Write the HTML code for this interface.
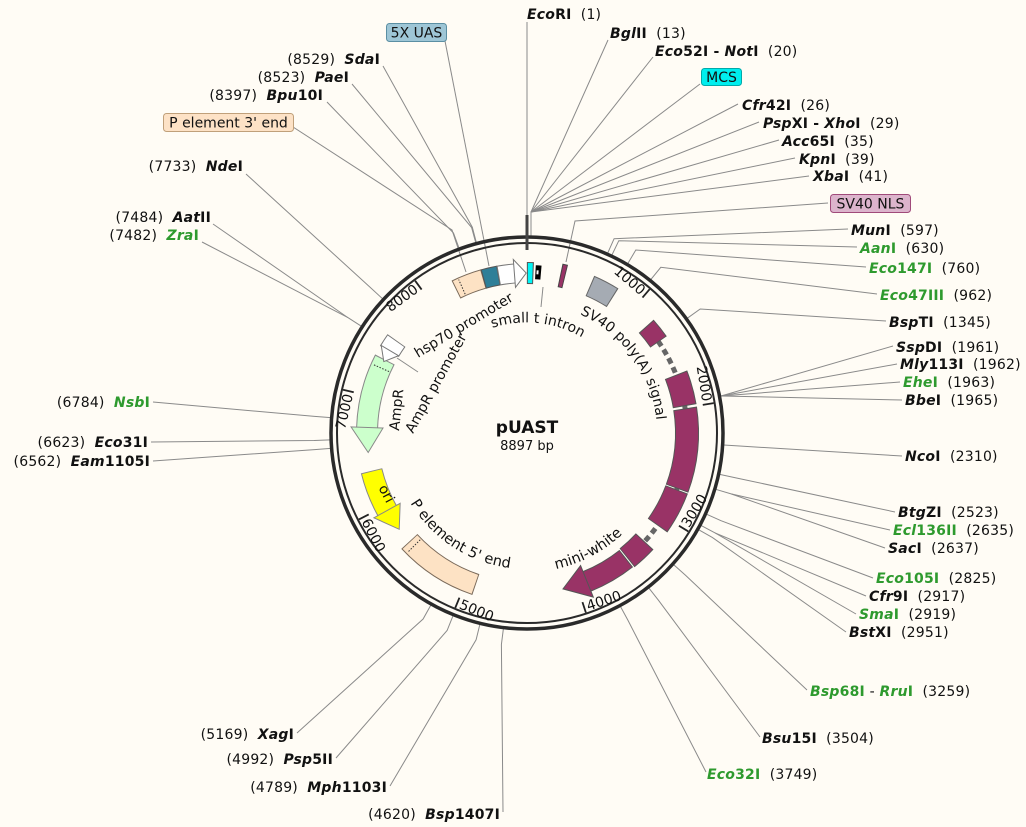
<!DOCTYPE html>
<html><head><meta charset="utf-8"><style>
body{margin:0;background:#fffcf5;}
svg{display:block;font-family:"DejaVu Sans","Liberation Sans",sans-serif;}
.i{font-weight:bold;font-style:italic}
.b{font-weight:bold}
.gi{font-weight:bold;font-style:italic;fill:#2e9a2e}
.gb{font-weight:bold;fill:#2e9a2e}
.ln{fill:none;stroke:#8a8a8a;stroke-width:1}
.lab{font-size:14px;letter-spacing:0.2px}
</style></head><body>
<svg width="1026" height="827" viewBox="0 0 1026 827" xmlns="http://www.w3.org/2000/svg" font-size="13">
<rect width="1026" height="827" fill="#fffcf5"/>
<g class="ln">
<line x1="527" y1="22" x2="527" y2="236"/>
<polyline points="608,40 531,212 531,236"/>
<polyline points="653,57 531,212"/>
<polyline points="700,84 531,212"/>
<polyline points="738,104 531,212"/>
<polyline points="759,122 531,212"/>
<polyline points="779,140 531,212"/>
<polyline points="795,158 531,212"/>
<polyline points="809,176 531,212"/>
<polyline points="828,203 575,221 566,262"/>
<polyline points="848,229 614.1,238.7 607.6,253.3"/>
<polyline points="857,247 618.8,240.7 611.9,255.1"/>
<polyline points="866,267 635.8,250 627.7,263.8"/>
<polyline points="877,294 660.8,267.3 650.7,279.7"/>
<polyline points="886,321 700.2,309 687.2,318.3"/>
<polyline points="893,346 721,396"/>
<polyline points="897,364 721,396"/>
<polyline points="900,382 721,396"/>
<polyline points="902,400 721,396"/>
<polyline points="902,456 739.6,446 723.6,445"/>
<polyline points="895,512 735.3,477.7 719.7,474.4"/>
<polyline points="890,530 731.1,493.9 715.7,489.3"/>
<polyline points="885,548 731.1,493.9"/>
<polyline points="873,578 721,520.7 706.5,514.2"/>
<polyline points="866,596 715.1,532.9 701,525.4"/>
<polyline points="856,614 715.1,532.9"/>
<polyline points="846,632 712.5,537.6 698.6,529.7"/>
<polyline points="807,690 685.5,575.3 673.6,564.6"/>
<polyline points="760,737 658.6,600.4 648.7,587.8"/>
<polyline points="706,772 628,620.4 620.4,606.4"/>
<polyline points="383,66 472.3,227.2 476.4,242.7"/>
<polyline points="352,84 471.6,227.5 475.8,242.9"/>
<polyline points="327,102 453.5,233 459,248"/>
<polyline points="293,127 452,230 466,272"/>
<polyline points="445,41 489,266"/>
<polyline points="246,174 370.9,288 382.6,298.8"/>
<polyline points="213,224 347.9,317.6 361.3,326.2"/>
<polyline points="202,242 347.9,317.6"/>
<polyline points="153,402 314.6,416.4 330.6,417.6"/>
<polyline points="151,442 314.2,440.5 330.2,439.9"/>
<polyline points="153,461 314.6,449.6 330.6,448.4"/>
<polyline points="297,733 423.1,619 430.9,605"/>
<polyline points="336,758 447.1,630.5 453.1,615.6"/>
<polyline points="390,786 476.1,639.8 479.9,624.3"/>
<polyline points="503,812 501.4,644.5 503.4,628.6"/>
<line x1="543" y1="287" x2="541" y2="307"/>
<line x1="397" y1="358" x2="418" y2="372"/>
</g>

<g transform="translate(527,433)">
<circle r="196" fill="none" stroke="#2a2a2a" stroke-width="3.5"/>
<circle r="190" fill="none" stroke="#2a2a2a" stroke-width="2"/>
<line x1="0" y1="-218" x2="0" y2="-183" stroke="#444" stroke-width="3"/>
<g stroke="#222" stroke-width="1.8" fill="#111" font-size="14">
<g transform="rotate(40.46)"><line y1="-189" y2="-178"/><text stroke="none" x="-3" y="-178" text-anchor="end">1000</text></g>
<g transform="rotate(80.92)"><line y1="-189" y2="-178"/><text stroke="none" x="-3" y="-178" text-anchor="end">2000</text></g>
<g transform="rotate(121.39)"><line y1="-189" y2="-178"/><text stroke="none" transform="rotate(180)" x="3" y="188">3000</text></g>
<g transform="rotate(161.85)"><line y1="-189" y2="-178"/><text stroke="none" transform="rotate(180)" x="3" y="188">4000</text></g>
<g transform="rotate(202.31)"><line y1="-189" y2="-178"/><text stroke="none" transform="rotate(180)" x="3" y="188">5000</text></g>
<g transform="rotate(242.78)"><line y1="-189" y2="-178"/><text stroke="none" transform="rotate(180)" x="3" y="188">6000</text></g>
<g transform="rotate(283.24)"><line y1="-189" y2="-178"/><text stroke="none" x="-3" y="-178" text-anchor="end">7000</text></g>
<g transform="rotate(323.70)"><line y1="-189" y2="-178"/><text stroke="none" x="-3" y="-178" text-anchor="end">8000</text></g>
</g>

<path d="M131.1,-91.8 A160,160 0 0 1 117,109.1" fill="none" stroke="#666" stroke-width="5" stroke-dasharray="6 4"/>

<g fill="none">
<circle r="160" stroke="#7a6a5a" stroke-width="20" stroke-dasharray="29.9 2000" transform="rotate(-116.35)"/>
<circle r="160" stroke="#555" stroke-width="20" stroke-dasharray="15.9 2000" transform="rotate(-105.85)"/>
<circle r="160" stroke="#777" stroke-width="20" stroke-dasharray="17.3 2000" transform="rotate(-100.35)"/>
<circle r="160" stroke="#555" stroke-width="22" stroke-dasharray="6.7 2000" transform="rotate(-90.05)"/>
<circle r="161" stroke="#000" stroke-width="14" stroke-dasharray="5.6 2000" transform="rotate(-87)"/>
<circle r="161" stroke="#444" stroke-width="24" stroke-dasharray="5.3 2000" transform="rotate(-78.15)"/>
<circle r="160" stroke="#666" stroke-width="22" stroke-dasharray="25.7 2000" transform="rotate(-66.85)"/>
<circle r="160" stroke="#555" stroke-width="20" stroke-dasharray="20.1 2000" transform="rotate(-41.85)"/>
<circle r="160" stroke="#555" stroke-width="24" stroke-dasharray="32.7 2000" transform="rotate(-21.35)"/>
<circle r="160" stroke="#555" stroke-width="24" stroke-dasharray="81.5 2000" transform="rotate(-8.85)"/>
<circle r="160" stroke="#555" stroke-width="24" stroke-dasharray="41 2000" transform="rotate(20.65)"/>
<circle r="160" stroke="#555" stroke-width="24" stroke-dasharray="24.2 2000" transform="rotate(42.65)"/>
<circle r="160" stroke="#555" stroke-width="22" stroke-dasharray="45.7 2000" transform="rotate(51.65)"/>
<circle r="160" stroke="#777" stroke-width="22" stroke-dasharray="13.1 2000" transform="rotate(-149.35)"/>
<circle r="160" stroke="#888" stroke-width="22" stroke-dasharray="71.8 2000" transform="rotate(-178.35)"/>
<circle r="160" stroke="#888" stroke-width="22" stroke-dasharray="43.8 2000" transform="rotate(-209.35)"/>
<circle r="160" stroke="#7a6a5a" stroke-width="22" stroke-dasharray="80.1 2000" transform="rotate(-251.35)"/>
<circle r="160" stroke="#fde2c4" stroke-width="18" stroke-dasharray="27.9 2000" transform="rotate(-116)"/>
<circle r="160" stroke="#2f7f98" stroke-width="18" stroke-dasharray="14 2000" transform="rotate(-105.5)"/>
<circle r="160" stroke="#ffffff" stroke-width="18" stroke-dasharray="15.4 2000" transform="rotate(-100)"/>
<circle r="160" stroke="#00f5f5" stroke-width="20" stroke-dasharray="4.7 2000" transform="rotate(-89.7)"/>
<circle r="161" stroke="#fff" stroke-width="4" stroke-dasharray="2 2000" transform="rotate(-86.6)"/>
<circle r="161" stroke="#993366" stroke-width="22" stroke-dasharray="3.4 2000" transform="rotate(-77.8)"/>
<circle r="160" stroke="#a5abb3" stroke-width="20" stroke-dasharray="23.7 2000" transform="rotate(-66.5)"/>
<circle r="160" stroke="#993366" stroke-width="18" stroke-dasharray="18.2 2000" transform="rotate(-41.5)"/>
<circle r="160" stroke="#993366" stroke-width="22" stroke-dasharray="30.7 2000" transform="rotate(-21)"/>
<circle r="160" stroke="#993366" stroke-width="22" stroke-dasharray="79.6 2000" transform="rotate(-8.5)"/>
<circle r="160" stroke="#993366" stroke-width="22" stroke-dasharray="39.1 2000" transform="rotate(21)"/>
<circle r="160" stroke="#993366" stroke-width="22" stroke-dasharray="22.3 2000" transform="rotate(43)"/>
<circle r="160" stroke="#993366" stroke-width="20" stroke-dasharray="44.7 2000" transform="rotate(52)"/>
<circle r="160" stroke="#ffffff" stroke-width="20" stroke-dasharray="11.2 2000" transform="rotate(-149)"/>
<circle r="160" stroke="#ccffcc" stroke-width="20" stroke-dasharray="69.8 2000" transform="rotate(-178)"/>
<circle r="160" stroke="#ffff00" stroke-width="20" stroke-dasharray="41.9 2000" transform="rotate(-209)"/>
<circle r="160" stroke="#fde2c4" stroke-width="20" stroke-dasharray="78.2 2000" transform="rotate(-251)"/>
</g>
<polygon points="-11.5,-145.6 -13.7,-173.5 -0.8,-160" fill="#fff" stroke="#777" stroke-width="1"/>
<g transform="rotate(167)"><polygon points="-22.4,-141.2 -27.7,-174.8 0,-160" fill="#993366" stroke="#555" stroke-width="1"/></g>
<g transform="rotate(-63.5)"><polygon points="11.8,-149.5 13.3,-169.5 0,-160" fill="#fff" stroke="#777" stroke-width="1"/></g>
<g transform="rotate(-97)"><polygon points="22.5,-142.3 27.5,-173.9 0,-160" fill="#ccffcc" stroke="#888" stroke-width="1"/></g>
<g transform="rotate(-127)"><polygon points="20.2,-143.6 24.4,-173.3 0,-160" fill="#ffff00" stroke="#888" stroke-width="1"/></g>
<g stroke="#333" stroke-width="1" stroke-dasharray="1.5 1.5">
<line transform="rotate(-24)" x1="0" y1="-152" x2="0" y2="-168"/>
<line transform="rotate(-66)" x1="0" y1="-151" x2="0" y2="-169"/>
<line transform="rotate(-135)" x1="0" y1="-151" x2="0" y2="-169"/>
</g>
<text x="0" y="0" text-anchor="middle" font-size="17" font-weight="bold" fill="#111">pUAST</text>
<text x="0" y="17" text-anchor="middle" font-size="13" fill="#111">8897 bp</text>
</g>

<defs>
<path id="pIntron" d="M492.3,327.9 A110,110 0 0 1 611.3,362.3"/>
<path id="pSV40" d="M579.9,314.2 A130,130 0 0 1 649.2,477.5"/>
<path id="pP5" d="M410.4,503 A136,136 0 0 0 550.6,567"/>
<path id="pMini" d="M555.9,569 A139,139 0 0 0 647.4,502.5"/>
</defs>
<g fill="#111" font-size="14">
<text transform="translate(418,358) rotate(-31)" font-size="14">hsp70 promoter</text>
<text transform="translate(413,434) rotate(-61)" font-size="14">AmpR promoter</text>
<text transform="translate(399,431) rotate(-84)">AmpR</text>
<text transform="translate(386,494) rotate(62)" text-anchor="middle" y="4">ori</text>
<text><textPath href="#pIntron">small t intron</textPath></text>
<text><textPath href="#pSV40">SV40 poly(A) signal</textPath></text>
<text font-size="14.5"><textPath href="#pP5">P element 5' end</textPath></text>
<text font-size="14.5"><textPath href="#pMini">mini-white</textPath></text>
</g>

<g font-size="14">
<rect x="386.5" y="23.5" width="60" height="18" rx="3" fill="#9ec6d6" stroke="#5b8fa3"/>
<text x="416.5" y="37.5" text-anchor="middle" fill="#111">5X UAS</text>
<rect x="163.5" y="113.5" width="130" height="18" rx="3" fill="#fde2c6" stroke="#c0a07a"/>
<text x="228.5" y="127.5" text-anchor="middle" fill="#111">P element 3' end</text>
<rect x="701.5" y="68.5" width="40" height="17" rx="3" fill="#00eeee" stroke="#0aa"/>
<text x="721.5" y="82" text-anchor="middle" fill="#111">MCS</text>
<rect x="830.5" y="194.5" width="80" height="18" rx="3" fill="#dcb4cc" stroke="#a04a7a"/>
<text x="870.5" y="208.5" text-anchor="middle" fill="#111">SV40 NLS</text>
</g>

<g fill="#111" class="lab">
<text x="527" y="19"><tspan class="i">Eco</tspan><tspan class="b">RI</tspan>&#160;&#160;(1)</text>
<text x="610" y="38"><tspan class="i">Bgl</tspan><tspan class="b">II</tspan>&#160;&#160;(13)</text>
<text x="655" y="56"><tspan class="i">Eco</tspan><tspan class="b">52I - </tspan><tspan class="i">Not</tspan><tspan class="b">I</tspan>&#160;&#160;(20)</text>
<text x="742" y="110"><tspan class="i">Cfr</tspan><tspan class="b">42I</tspan>&#160;&#160;(26)</text>
<text x="763" y="128"><tspan class="i">Psp</tspan><tspan class="b">XI - </tspan><tspan class="i">Xho</tspan><tspan class="b">I</tspan>&#160;&#160;(29)</text>
<text x="782" y="146"><tspan class="i">Acc</tspan><tspan class="b">65I</tspan>&#160;&#160;(35)</text>
<text x="799" y="164"><tspan class="i">Kpn</tspan><tspan class="b">I</tspan>&#160;&#160;(39)</text>
<text x="813" y="181"><tspan class="i">Xba</tspan><tspan class="b">I</tspan>&#160;&#160;(41)</text>
<text x="851" y="235"><tspan class="i">Mun</tspan><tspan class="b">I</tspan>&#160;&#160;(597)</text>
<text x="860" y="253"><tspan class="gi">Aan</tspan><tspan class="gb">I</tspan>&#160;&#160;(630)</text>
<text x="869" y="273"><tspan class="gi">Eco</tspan><tspan class="gb">147I</tspan>&#160;&#160;(760)</text>
<text x="880" y="300"><tspan class="gi">Eco</tspan><tspan class="gb">47III</tspan>&#160;&#160;(962)</text>
<text x="889" y="327"><tspan class="i">Bsp</tspan><tspan class="b">TI</tspan>&#160;&#160;(1345)</text>
<text x="896" y="352"><tspan class="i">Ssp</tspan><tspan class="b">DI</tspan>&#160;&#160;(1961)</text>
<text x="900" y="369"><tspan class="i">Mly</tspan><tspan class="b">113I</tspan>&#160;&#160;(1962)</text>
<text x="903" y="387"><tspan class="gi">Ehe</tspan><tspan class="gb">I</tspan>&#160;&#160;(1963)</text>
<text x="905" y="405"><tspan class="i">Bbe</tspan><tspan class="b">I</tspan>&#160;&#160;(1965)</text>
<text x="905" y="461"><tspan class="i">Nco</tspan><tspan class="b">I</tspan>&#160;&#160;(2310)</text>
<text x="898" y="517"><tspan class="i">Btg</tspan><tspan class="b">ZI</tspan>&#160;&#160;(2523)</text>
<text x="893" y="535"><tspan class="gi">Ecl</tspan><tspan class="gb">136II</tspan>&#160;&#160;(2635)</text>
<text x="888" y="553"><tspan class="i">Sac</tspan><tspan class="b">I</tspan>&#160;&#160;(2637)</text>
<text x="876" y="583"><tspan class="gi">Eco</tspan><tspan class="gb">105I</tspan>&#160;&#160;(2825)</text>
<text x="869" y="601"><tspan class="i">Cfr</tspan><tspan class="b">9I</tspan>&#160;&#160;(2917)</text>
<text x="859" y="619"><tspan class="gi">Sma</tspan><tspan class="gb">I</tspan>&#160;&#160;(2919)</text>
<text x="849" y="637"><tspan class="i">Bst</tspan><tspan class="b">XI</tspan>&#160;&#160;(2951)</text>
<text x="810" y="696"><tspan class="gi">Bsp</tspan><tspan class="gb">68I</tspan> - <tspan class="gi">Rru</tspan><tspan class="gb">I</tspan>&#160;&#160;(3259)</text>
<text x="762" y="743"><tspan class="i">Bsu</tspan><tspan class="b">15I</tspan>&#160;&#160;(3504)</text>
<text x="707" y="779"><tspan class="gi">Eco</tspan><tspan class="gb">32I</tspan>&#160;&#160;(3749)</text>

<text x="380" y="64" text-anchor="end">(8529)&#160;&#160;<tspan class="i">Sda</tspan><tspan class="b">I</tspan></text>
<text x="349" y="82" text-anchor="end">(8523)&#160;&#160;<tspan class="i">Pae</tspan><tspan class="b">I</tspan></text>
<text x="323" y="100" text-anchor="end">(8397)&#160;&#160;<tspan class="i">Bpu</tspan><tspan class="b">10I</tspan></text>
<text x="243" y="171" text-anchor="end">(7733)&#160;&#160;<tspan class="i">Nde</tspan><tspan class="b">I</tspan></text>
<text x="211" y="222" text-anchor="end">(7484)&#160;&#160;<tspan class="i">Aat</tspan><tspan class="b">II</tspan></text>
<text x="199" y="240" text-anchor="end">(7482)&#160;&#160;<tspan class="gi">Zra</tspan><tspan class="gb">I</tspan></text>
<text x="150" y="407" text-anchor="end">(6784)&#160;&#160;<tspan class="gi">Nsb</tspan><tspan class="gb">I</tspan></text>
<text x="148" y="447" text-anchor="end">(6623)&#160;&#160;<tspan class="i">Eco</tspan><tspan class="b">31I</tspan></text>
<text x="150" y="466" text-anchor="end">(6562)&#160;&#160;<tspan class="i">Eam</tspan><tspan class="b">1105I</tspan></text>
<text x="294" y="739" text-anchor="end">(5169)&#160;&#160;<tspan class="i">Xag</tspan><tspan class="b">I</tspan></text>
<text x="333" y="764" text-anchor="end">(4992)&#160;&#160;<tspan class="i">Psp</tspan><tspan class="b">5II</tspan></text>
<text x="387" y="792" text-anchor="end">(4789)&#160;&#160;<tspan class="i">Mph</tspan><tspan class="b">1103I</tspan></text>
<text x="500" y="819" text-anchor="end">(4620)&#160;&#160;<tspan class="i">Bsp</tspan><tspan class="b">1407I</tspan></text>
</g>
</svg>
</body></html>
